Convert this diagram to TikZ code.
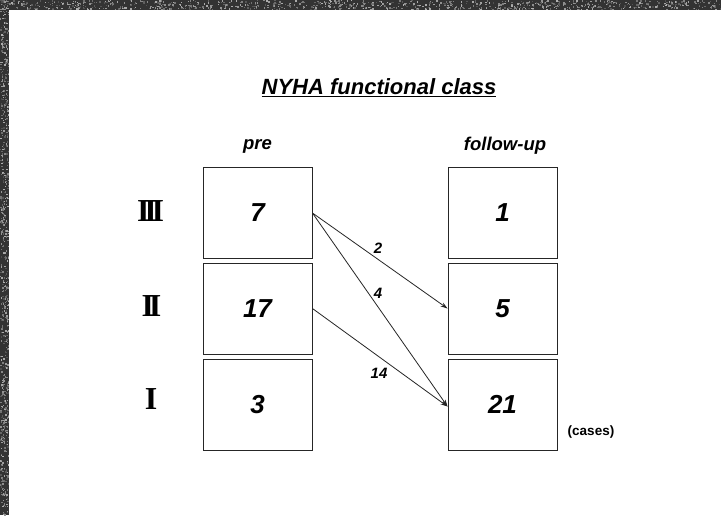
\documentclass[tikz,border=0pt]{standalone}
\usepackage{fontspec}
\setmainfont{Liberation Sans}
\newfontfamily\romfont{Liberation Serif}
\usetikzlibrary{arrows.meta}
\begin{document}
\begin{tikzpicture}[x=1pt,y=-1pt,
  classbox/.style={draw=black!85,line width=0.9pt,minimum width=109pt,minimum height=91pt,inner sep=0pt,
                   font=\fontsize{26}{28}\selectfont\bfseries\itshape},
  colhead/.style={font=\fontsize{18.5}{20}\selectfont\bfseries\itshape},
  roman/.style={font=\fontsize{32}{34}\selectfont\romfont\bfseries},
  flow/.style={draw=black!85,line width=0.8pt,-{Stealth[length=7pt,width=4.5pt]}},
  flowlabel/.style={font=\fontsize{15}{16}\selectfont\bfseries\itshape,inner sep=0pt}]
  \useasboundingbox (0,0) rectangle (721,515);
  \fill[white] (0,0) rectangle (721,515);
  % scanned edge along the top and left
  \fill[black!80] (0,0) rectangle (721,10);
  \fill[black!80] (0,0) rectangle (9,515);
  \pgfmathsetseed{4711}
  \foreach \k in {1,...,900}{
    \pgfmathsetmacro{\px}{721*rnd}
    \pgfmathsetmacro{\py}{9*rnd}
    \pgfmathsetmacro{\gv}{30+40*rnd}
    \fill[black!\gv] (\px,\py) rectangle ++(1.4,1.4);
  }
  \foreach \k in {1,...,700}{
    \pgfmathsetmacro{\px}{8*rnd}
    \pgfmathsetmacro{\py}{515*rnd}
    \pgfmathsetmacro{\gv}{30+40*rnd}
    \fill[black!\gv] (\px,\py) rectangle ++(1.4,1.4);
  }

  % title
  \node[font=\fontsize{22}{24}\selectfont\bfseries\itshape] (title) at (379,88) {\underline{NYHA functional class}};

  % column heads
  \node[colhead] (hpre) at (257.5,146) {pre};
  \node[colhead] (hfu) at (505,146) {follow-up};

  % class labels
  \node[roman] (r3) at (150.5,211) {I\kern-5.2pt I\kern-5.2pt I};
  \node[roman] (r2) at (151.5,306) {I\kern-5.2pt I};
  \node[roman] (r1) at (151,399) {I};

  % boxes before treatment
  \node[classbox] (pre3) at (257.5,213) {7};
  \node[classbox] (pre2) at (257.5,308.5) {17};
  \node[classbox] (pre1) at (257.5,404.5) {3};

  % boxes at follow-up
  \node[classbox] (fu3) at (502.5,213) {1};
  \node[classbox] (fu2) at (502.5,308.5) {5};
  \node[classbox] (fu1) at (502.5,404.5) {21};

  % transitions
  \draw[flow] (pre3.east) -- (fu2.west);
  \draw[flow] (pre3.east) -- ([yshift=-2pt]fu1.west);
  \draw[flow] (pre2.east) -- ([yshift=-2pt]fu1.west);

  \node[flowlabel] (n2) at (378,248) {2};
  \node[flowlabel] (n4) at (378,293) {4};
  \node[flowlabel] (n14) at (379,373) {14};

  \node[font=\fontsize{13.5}{14}\selectfont\bfseries] (cases) at (591,432) {(cases)};
\end{tikzpicture}
\end{document}
